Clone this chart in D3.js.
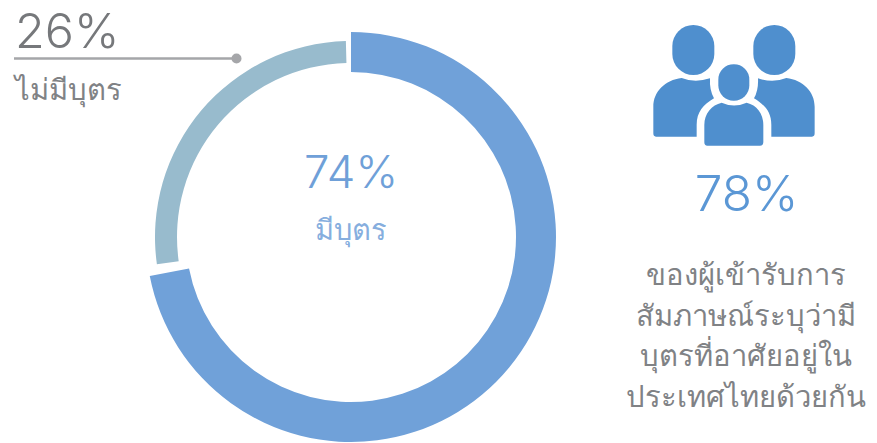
<!DOCTYPE html>
<html><head><meta charset="utf-8">
<script src="https://cdn.jsdelivr.net/npm/d3@7"></script>
<style>html,body{margin:0;padding:0;background:#fff}svg{display:block}text{font-family:"Open Sans","Noto Sans","DejaVu Sans",sans-serif}text.num{font-family:Inter,"Open Sans",sans-serif}</style>
</head><body><div id="c"></div>
<script>
const categories = ["มีบุตร","ไม่มีบุตร"];
const shares = [74,26];
const labels = ["74%","26%"];
const arcSweep = [259,96.5];
const arcStart = [0,262];
const ringOuter = [205,196];
const ringInner = [165,174];
const ringColors = ["#70a1d9","#98bbcd"];
const statValue = "78%";
const statLines = ["ของผู้เข้ารับการ","สัมภาษณ์ระบุว่ามี","บุตรที่อาศัยอยู่ใน","ประเทศไทยด้วยกัน"];
const W=877,H=443,cx=351,cy=237;
const svg=d3.select("#c").append("svg").attr("width",W).attr("height",H);
const rad=d3.scaleLinear().domain([0,360]).range([0,2*Math.PI]);
const arc=d3.arc();
svg.selectAll("path.ring").data(categories).join("path").attr("class","ring")
 .attr("transform",`translate(${cx},${cy})`)
 .attr("fill",(d,i)=>ringColors[i])
 .attr("d",(d,i)=>arc({innerRadius:ringInner[i],outerRadius:ringOuter[i],startAngle:rad(arcStart[i]),endAngle:rad(arcStart[i]+arcSweep[i])}));
const gray="#76787b",thaiGray="#808285",blue="#5b97d5";
function t(s,x,y,size,fill,anchor,cls){return svg.append("text").text(s).attr("class",cls||null).attr("x",x).attr("y",y).attr("font-size",size).attr("fill",fill).attr("text-anchor",anchor||"start").attr("font-weight",300);}
t(labels[1],15,48,48.5,gray,"start","num");
svg.append("line").attr("x1",14).attr("x2",236).attr("y1",58.5).attr("y2",58.5).attr("stroke","#a5a6a9").attr("stroke-width",2.5);
svg.append("circle").attr("cx",236.5).attr("cy",58.5).attr("r",5).attr("fill","#a5a6a9");
t(categories[1],15,100,29.2,thaiGray);
t(labels[0],351,188,45.5,"#6fa0d8","middle","num");
t(categories[0],351,240,29,"#86aede","middle");
t(statValue,746.5,211,49.5,blue,"middle","num");
statLines.forEach((s,i)=>t(s,746,285+i*40.5,29.2,thaiGray,"middle"));
const icon=svg.append("g").attr("transform","translate(640,10) scale(0.3333)").attr("fill","#4f8fce");
const leftBody="M48,380 Q40,380 40,370 L40,290 C40,245 75,210 125,204 Q165,220 210,205 Q208,240 222,265 C190,285 170,305 170,345 L170,380 Z";
icon.append("rect").attr("x",97).attr("y",45).attr("width",126).attr("height",150).attr("rx",63).attr("ry",63);
icon.append("rect").attr("x",340).attr("y",45).attr("width",126).attr("height",150).attr("rx",63).attr("ry",63);
icon.append("rect").attr("x",235).attr("y",163).attr("width",93).attr("height",109).attr("rx",46).attr("ry",46);
icon.append("path").attr("d",leftBody);
icon.append("path").attr("d",leftBody).attr("transform","translate(564,0) scale(-1,1)");
icon.append("path").attr("d","M202,407 Q193,407 193,397 L193,345 C193,310 215,285 245,278 Q282,295 320,278 C350,285 370,310 370,345 L370,397 Q370,407 360,407 Z");
</script></body></html>
